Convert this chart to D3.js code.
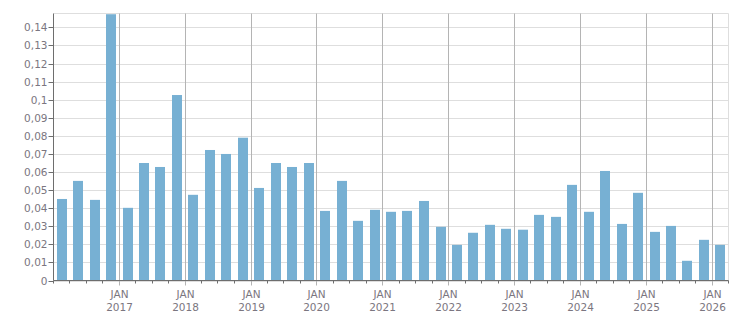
<!DOCTYPE html>
<html>
<head>
<meta charset="utf-8">
<script src="https://cdn.jsdelivr.net/npm/d3@7.9.0/dist/d3.min.js"></script>
<style>
  body { margin: 0; background: #fff; }
  svg text { font-family: "DejaVu Sans", sans-serif; font-size: 10.5px; fill: #7b7680; }
</style>
</head>
<body>
<svg width="751" height="313"></svg>
<script>
// quarter start months, one bar per quarter
const quarters = [
  '2016-01', '2016-04', '2016-07', '2016-10',
  '2017-01', '2017-04', '2017-07', '2017-10',
  '2018-01', '2018-04', '2018-07', '2018-10',
  '2019-01', '2019-04', '2019-07', '2019-10',
  '2020-01', '2020-04', '2020-07', '2020-10',
  '2021-01', '2021-04', '2021-07', '2021-10',
  '2022-01', '2022-04', '2022-07', '2022-10',
  '2023-01', '2023-04', '2023-07', '2023-10',
  '2024-01', '2024-04', '2024-07', '2024-10',
  '2025-01', '2025-04', '2025-07', '2025-10',
  '2026-01'
];
const values = [
  0.0451, 0.0551, 0.0446, 0.1473,
  0.0402, 0.0650, 0.0628, 0.1026,
  0.0474, 0.0722, 0.0700, 0.0790,
  0.0512, 0.0650, 0.0628, 0.0650,
  0.0385, 0.0551, 0.0330, 0.0391,
  0.0380, 0.0385, 0.0440, 0.0297,
  0.0197, 0.0264, 0.0308, 0.0286,
  0.0281, 0.0363, 0.0352, 0.0529,
  0.0380, 0.0606, 0.0313, 0.0485,
  0.0269, 0.0302, 0.0109, 0.0225,
  0.0197
];
const yTicks = [0, 0.01, 0.02, 0.03, 0.04, 0.05, 0.06, 0.07, 0.08, 0.09, 0.1, 0.11, 0.12, 0.13, 0.14];
const yearTicks = [2017, 2018, 2019, 2020, 2021, 2022, 2023, 2024, 2025, 2026];
const monthLabel = 'JAN';

const parse = d3.timeParse('%Y-%m');
const data = quarters.map((q, i) => ({ start: parse(q), value: values[i] }));

const mLeft = 53.5, mRight = 728.5, mTop = 13.5, mBottom = 280.5;
const svg = d3.select('svg');

const x = d3.scaleTime()
  .domain([data[0].start, d3.timeMonth.offset(data[data.length - 1].start, 3)])
  .range([mLeft, mRight]);
const y = d3.scaleLinear().domain([0, 0.1477]).range([mBottom, mTop]);

const locale = d3.formatLocale({ decimal: ',', thousands: '.', grouping: [3], currency: ['', ''] });
const fmt = locale.format('~g');

// horizontal grid
svg.append('g').selectAll('line').data(yTicks).join('line')
  .attr('x1', mLeft).attr('x2', mRight)
  .attr('y1', d => Math.round(y(d)) + 0.5).attr('y2', d => Math.round(y(d)) + 0.5)
  .attr('stroke', '#dedede');
svg.append('line').attr('x1', mLeft).attr('x2', mRight).attr('y1', mTop).attr('y2', mTop).attr('stroke', '#dedede');
svg.append('line').attr('x1', mRight).attr('x2', mRight).attr('y1', mTop).attr('y2', mBottom).attr('stroke', '#dedede');

// quarterly minor ticks
const qTicks = x.ticks(d3.timeMonth.every(3));
svg.append('g').selectAll('line').data(qTicks).join('line')
  .attr('x1', d => Math.floor(x(d)) + 0.5).attr('x2', d => Math.floor(x(d)) + 0.5)
  .attr('y1', mBottom).attr('y2', mBottom + 3)
  .attr('stroke', '#6e6e6e');

// year lines
const yearDates = yearTicks.map(yr => new Date(yr, 0, 1));
svg.append('g').selectAll('line').data(yearDates).join('line')
  .attr('x1', d => Math.floor(x(d)) + 0.5).attr('x2', d => Math.floor(x(d)) + 0.5)
  .attr('y1', mTop).attr('y2', mBottom + 5)
  .attr('stroke', '#b4b4b4');

// bars
svg.append('g').selectAll('rect').data(data).join('rect')
  .attr('x', d => {
    const a = x(d.start), b = x(d3.timeMonth.offset(d.start, 3));
    return Math.round((a + b) / 2 - 5);
  })
  .attr('width', 10)
  .attr('y', d => y(d.value))
  .attr('height', d => y(0) - y(d.value))
  .attr('fill', '#77b0d3');

// axes lines
svg.append('line').attr('x1', mLeft).attr('x2', mRight).attr('y1', mBottom).attr('y2', mBottom).attr('stroke', '#6e6e6e');
svg.append('line').attr('x1', mLeft).attr('x2', mLeft).attr('y1', mTop).attr('y2', mBottom).attr('stroke', '#6e6e6e');

// y ticks and labels
const yAx = svg.append('g').selectAll('g').data(yTicks).join('g')
  .attr('transform', d => `translate(0,${Math.round(y(d)) + 0.5})`);
yAx.append('line').attr('x1', mLeft - 5).attr('x2', mLeft).attr('stroke', '#6e6e6e');
yAx.append('text').attr('x', mLeft - 6).attr('dy', '0.35em').attr('text-anchor', 'end').text(d => fmt(d));

// x labels
const xl = svg.append('g').selectAll('text').data(yearDates).join('text')
  .attr('text-anchor', 'middle')
  .attr('transform', d => `translate(${Math.floor(x(d)) + 0.5},0)`);
xl.append('tspan').attr('x', 0).attr('y', 298).text(monthLabel);
xl.append('tspan').attr('x', 0).attr('y', 311).text(d => d.getFullYear());
</script>
</body>
</html>
